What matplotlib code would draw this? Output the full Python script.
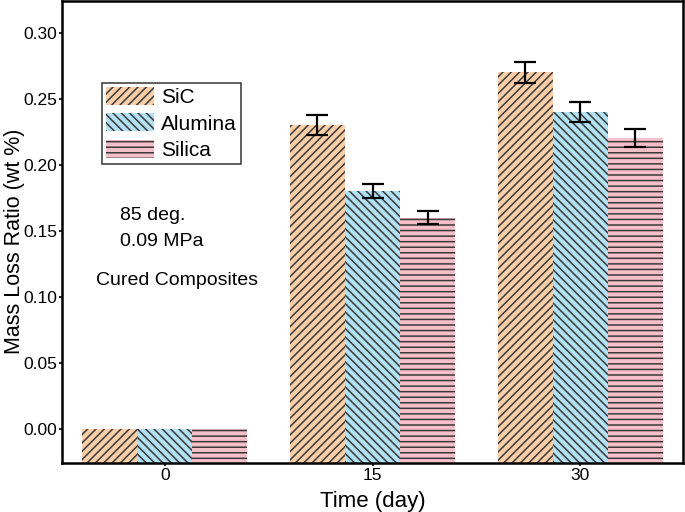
import matplotlib.pyplot as plt
import numpy as np

plt.rcParams['font.family'] = ['Liberation Sans', 'DejaVu Sans']
plt.rcParams['hatch.linewidth'] = 1.1

days = ['0', '15', '30']
series = ['SiC', 'Alumina', 'Silica']
sic = [0.0, 0.23, 0.27]
alumina = [0.0, 0.18, 0.24]
silica = [0.0, 0.16, 0.22]
sic_err = [0.0, 0.0075, 0.008]
alumina_err = [0.0, 0.005, 0.0075]
silica_err = [0.0, 0.005, 0.007]

colors = ['#fdcfa9', '#b3e1f4', '#f5bfca']
hatches = ['////', '\\\\\\\\', '---']

ymin = -0.0258
fig = plt.figure(figsize=(6.85, 5.12), dpi=100)
ax = fig.add_axes([0.0905, 0.0957, 0.9066, 0.9014])

x = np.arange(len(days))
w = 0.265
vals = [sic, alumina, silica]
errs = [sic_err, alumina_err, silica_err]
for i in range(3):
    pos = x + (i - 1) * w
    v = np.array(vals[i])
    ax.bar(pos, v - ymin, w, bottom=ymin, color=colors[i], edgecolor='#3a3a3a',
           linewidth=0, hatch=hatches[i], label=series[i])
    e = np.array(errs[i])
    m = e > 0
    ax.errorbar(pos[m], v[m], yerr=e[m], fmt='none', ecolor='black',
                elinewidth=1.6, capsize=8, capthick=1.6)

ax.set_xlim(-0.496, 2.496)
ax.set_ylim(ymin, 0.3235)
ax.set_xticks(x)
ax.set_xticklabels(days)
ax.set_yticks([0.0, 0.05, 0.10, 0.15, 0.20, 0.25, 0.30])
ax.set_yticklabels(['0.00', '0.05', '0.10', '0.15', '0.20', '0.25', '0.30'])
ax.tick_params(direction='out', length=2.5, width=1.2, pad=1, labelsize=12.5,
               colors='black')
for s in ax.spines.values():
    s.set_linewidth(1.8)

ax.set_xlabel('Time (day)', fontsize=16, labelpad=6)
ax.set_ylabel('Mass Loss Ratio (wt %)', fontsize=15.5)
ax.yaxis.set_label_coords(-0.06, 0.48)

ax.text(0.093, 0.537, '85 deg.', transform=ax.transAxes, fontsize=14, va='center')
ax.text(0.093, 0.479, '0.09 MPa', transform=ax.transAxes, fontsize=14, va='center')
ax.text(0.055, 0.396, 'Cured Composites', transform=ax.transAxes, fontsize=14,
        va='center')

leg = ax.legend(loc='upper left', bbox_to_anchor=(0.064, 0.824), borderaxespad=0,
                fontsize=15, fancybox=False, framealpha=1, handlelength=2.3,
                handleheight=0.96, handletextpad=0.33, labelspacing=0.3,
                borderpad=0.2)
leg.get_frame().set_edgecolor('#444444')
leg.get_frame().set_linewidth(1.2)

fig.savefig('out.png', dpi=100)
